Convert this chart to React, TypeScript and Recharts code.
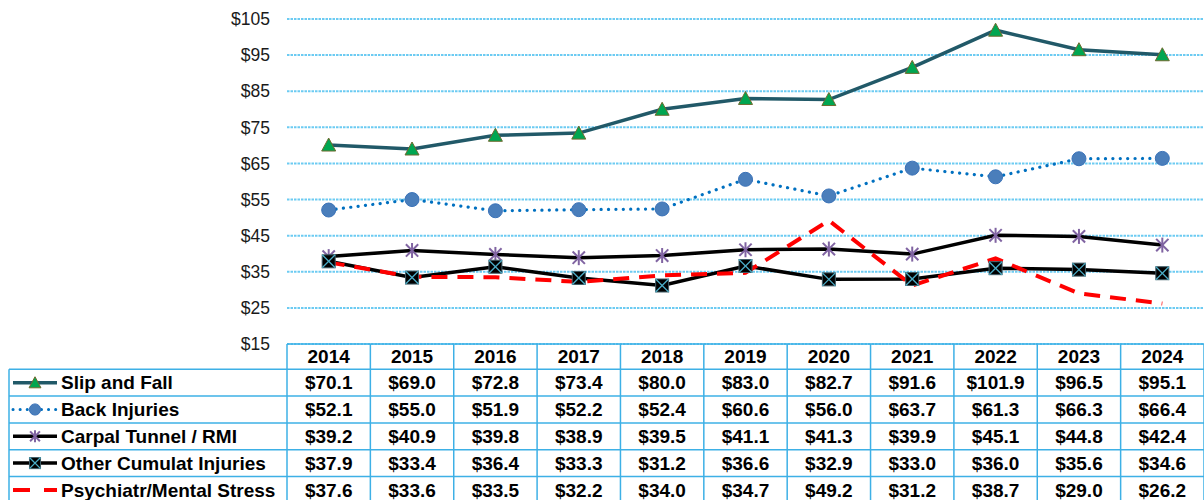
import React from 'react';
import { LineChart, Line, XAxis, YAxis, CartesianGrid, Customized } from 'recharts';

const years = ['2014', '2015', '2016', '2017', '2018', '2019', '2020', '2021', '2022', '2023', '2024'];
const slipAndFall = [70.1, 69.0, 72.8, 73.4, 80.0, 83.0, 82.7, 91.6, 101.9, 96.5, 95.1];
const backInjuries = [52.1, 55.0, 51.9, 52.2, 52.4, 60.6, 56.0, 63.7, 61.3, 66.3, 66.4];
const carpalTunnel = [39.2, 40.9, 39.8, 38.9, 39.5, 41.1, 41.3, 39.9, 45.1, 44.8, 42.4];
const otherCumulat = [37.9, 33.4, 36.4, 33.3, 31.2, 36.6, 32.9, 33.0, 36.0, 35.6, 34.6];
const psychStress = [37.6, 33.6, 33.5, 32.2, 34.0, 34.7, 49.2, 31.2, 38.7, 29.0, 26.2];
const seriesNames = ['Slip and Fall', 'Back Injuries', 'Carpal Tunnel / RMI', 'Other Cumulat Injuries', 'Psychiatr/Mental Stress'];
const yTicks = [15, 25, 35, 45, 55, 65, 75, 85, 95, 105];

const seriesValues = [slipAndFall, backInjuries, carpalTunnel, otherCumulat, psychStress];
const data = years.map((year, i) => ({
  year,
  slip: slipAndFall[i],
  back: backInjuries[i],
  carpal: carpalTunnel[i],
  other: otherCumulat[i],
  psych: psychStress[i],
}));

const W = 1204;
const H = 500;
const PLOT_LEFT = 287;
const PLOT_RIGHT = 1204;
const PLOT_TOP = 19;
const PLOT_BOTTOM = 344;
const COL_W = (PLOT_RIGHT - PLOT_LEFT) / years.length;
const HEADER_H = 25.3;
const ROW_H = 26.8;
const TABLE_LEFT = 9;
const GRID_BLUE = '#3DB0E6';
const FONT = '"Liberation Sans", Arial, Helvetica, sans-serif';

const rowTop = (r: number) => PLOT_BOTTOM + HEADER_H + r * ROW_H;

const Triangle = ({ cx, cy, s = 1 }: any) => (
  <polygon
    points={`${cx},${cy - 7 * s} ${cx - 7 * s},${cy + 6 * s} ${cx + 7 * s},${cy + 6 * s}`}
    fill="#00A651"
    stroke="#6E6A2E"
    strokeWidth={1}
  />
);
const Circle = ({ cx, cy, s = 1 }: any) => (
  <circle cx={cx} cy={cy} r={7 * s} fill="#4A7EBB" stroke="#3A72B8" strokeWidth={1} />
);
const Star = ({ cx, cy, s = 1 }: any) => {
  const r = 7.5 * s;
  const d = r * 0.82;
  return (
    <g stroke="#8064A2" strokeWidth={2}>
      <line x1={cx} y1={cy - r} x2={cx} y2={cy + r} />
      <line x1={cx - d} y1={cy - d} x2={cx + d} y2={cy + d} />
      <line x1={cx - d} y1={cy + d} x2={cx + d} y2={cy - d} />
    </g>
  );
};
const XSquare = ({ cx, cy, s = 1 }: any) => {
  const h = 6.5 * s;
  return (
    <g>
      <rect x={cx - h} y={cy - h} width={2 * h} height={2 * h} fill="#000" stroke="#3E5C66" strokeWidth={1} />
      <line x1={cx - h} y1={cy - h} x2={cx + h} y2={cy + h} stroke="#4BACC6" strokeWidth={1.3} />
      <line x1={cx - h} y1={cy + h} x2={cx + h} y2={cy - h} stroke="#4BACC6" strokeWidth={1.3} />
    </g>
  );
};

const mkDot = (Comp: any) => (p: any) => {
  if (p.cx == null || p.cy == null) return <g key={p.index} />;
  return <Comp key={p.index} cx={p.cx} cy={p.cy} />;
};

const TableTick = (props: any) => {
  const { x, y, index, payload } = props;
  const left = x - COL_W / 2;
  return (
    <g>
      <line x1={left} y1={y} x2={left} y2={H} stroke={GRID_BLUE} strokeWidth={1.5} />
      {index === years.length - 1 && (
        <line x1={left + COL_W} y1={y} x2={left + COL_W} y2={H} stroke={GRID_BLUE} strokeWidth={1.5} />
      )}
      <text x={x} y={y + 19} textAnchor="middle" fontFamily={FONT} fontWeight="bold" fontSize={19} fill="#000">
        {payload.value}
      </text>
      {seriesValues.map((vals, r) => (
        <text
          key={r}
          x={x}
          y={rowTop(r) + 20}
          textAnchor="middle"
          fontFamily={FONT}
          fontWeight="bold"
          fontSize={19}
          fill="#000"
        >
          {'$' + vals[index].toFixed(1)}
        </text>
      ))}
    </g>
  );
};

const LegendSample = ({ r }: { r: number }) => {
  const cy = rowTop(r) + ROW_H / 2;
  const x1 = 13;
  const x2 = 57;
  const cx = 35;
  if (r === 0)
    return (
      <g>
        <line x1={x1} y1={cy} x2={x2} y2={cy} stroke="#215968" strokeWidth={3.5} />
        <Triangle cx={cx} cy={cy} s={0.85} />
      </g>
    );
  if (r === 1)
    return (
      <g>
        <line x1={x1} y1={cy} x2={x2} y2={cy} stroke="#0070C0" strokeWidth={3} strokeDasharray="0.1 7" strokeLinecap="round" />
        <Circle cx={cx} cy={cy} s={0.8} />
      </g>
    );
  if (r === 2)
    return (
      <g>
        <line x1={x1} y1={cy} x2={x2} y2={cy} stroke="#000" strokeWidth={3.5} />
        <Star cx={cx} cy={cy} s={0.8} />
      </g>
    );
  if (r === 3)
    return (
      <g>
        <line x1={x1} y1={cy} x2={x2} y2={cy} stroke="#000" strokeWidth={3.5} />
        <XSquare cx={cx} cy={cy} s={0.85} />
      </g>
    );
  return (
    <g>
      <line x1={x1} y1={cy} x2={x2} y2={cy} stroke="#FF0000" strokeWidth={4} strokeDasharray="17 14" />
    </g>
  );
};

const LegendTable = () => (
  <g>
    <line x1={PLOT_LEFT} y1={PLOT_BOTTOM} x2={PLOT_RIGHT} y2={PLOT_BOTTOM} stroke={GRID_BLUE} strokeWidth={1.5} />
    {seriesNames.map((_, r) => (
      <line key={'h' + r} x1={TABLE_LEFT} y1={rowTop(r)} x2={PLOT_RIGHT} y2={rowTop(r)} stroke={GRID_BLUE} strokeWidth={1.5} />
    ))}
    <line x1={TABLE_LEFT} y1={rowTop(0)} x2={TABLE_LEFT} y2={H} stroke={GRID_BLUE} strokeWidth={1.5} />
    {seriesNames.map((name, r) => (
      <g key={'l' + r}>
        <LegendSample r={r} />
        <text x={61} y={rowTop(r) + 20} fontFamily={FONT} fontWeight="bold" fontSize={19} fill="#000">
          {name}
        </text>
      </g>
    ))}
  </g>
);

export default function App() {
  return (
    <div style={{ position: 'absolute', left: 0, top: 0, width: W, height: H, background: '#fff' }}>
      <LineChart width={W} height={H} data={data} margin={{ top: PLOT_TOP, right: 0, bottom: 0, left: 0 }}>
        <CartesianGrid vertical={false} stroke="#6CCBF2" strokeWidth={2} strokeDasharray="2.5 1" />
        <XAxis
          dataKey="year"
          height={H - PLOT_BOTTOM}
          padding={{ left: COL_W / 2, right: COL_W / 2 }}
          axisLine={false}
          tickLine={false}
          tickSize={0}
          tickMargin={0}
          interval={0}
          tick={<TableTick />}
        />
        <YAxis
          width={PLOT_LEFT}
          domain={[15, 105]}
          ticks={yTicks}
          axisLine={false}
          tickLine={false}
          tickSize={0}
          tickMargin={17}
          tick={{ fill: '#1a1a1a', fontSize: 17.5, fontFamily: FONT }}
          tickFormatter={(v: number) => `$${v}`}
        />
        <Customized component={LegendTable} />
        <Line type="linear" dataKey="slip" stroke="#215968" strokeWidth={3.5} dot={mkDot(Triangle)} activeDot={false} isAnimationActive={false} />
        <Line
          type="linear"
          dataKey="back"
          stroke="#0070C0"
          strokeWidth={3.2}
          strokeDasharray="0.1 7.3"
          strokeLinecap="round"
          dot={mkDot(Circle)}
          activeDot={false}
          isAnimationActive={false}
        />
        <Line type="linear" dataKey="carpal" stroke="#000" strokeWidth={3.5} dot={mkDot(Star)} activeDot={false} isAnimationActive={false} />
        <Line type="linear" dataKey="other" stroke="#000" strokeWidth={3.5} dot={mkDot(XSquare)} activeDot={false} isAnimationActive={false} />
        <Line type="linear" dataKey="psych" stroke="#FF0000" strokeWidth={4} strokeDasharray="16 10" dot={false} activeDot={false} isAnimationActive={false} />
      </LineChart>
    </div>
  );
}
